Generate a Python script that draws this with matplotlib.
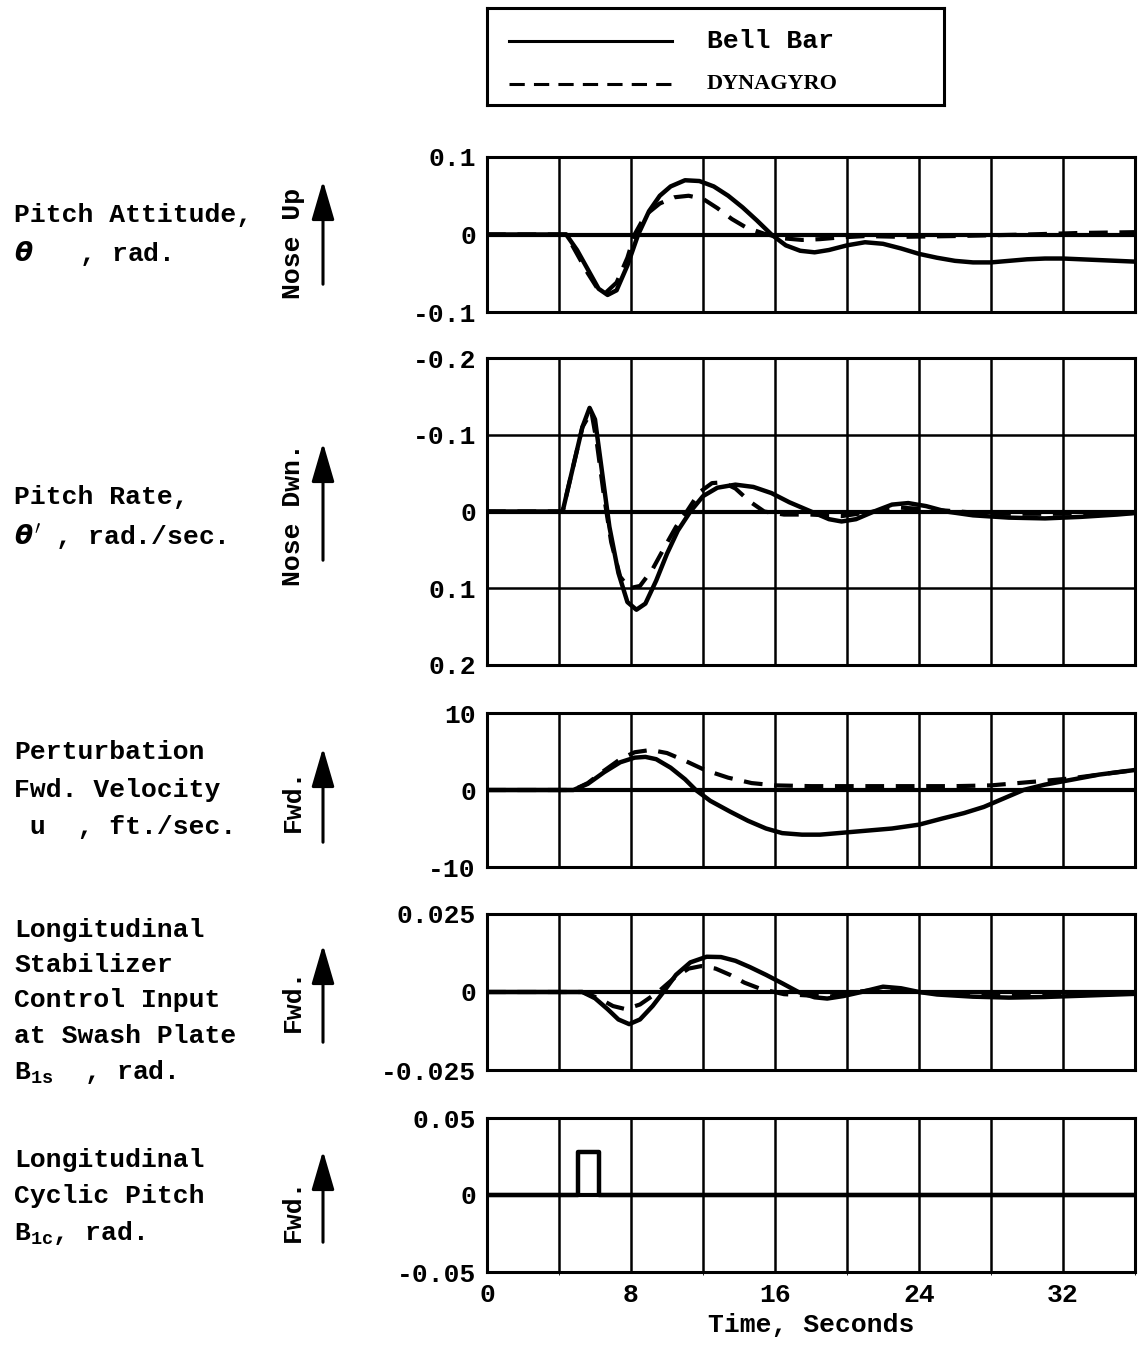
import matplotlib.pyplot as plt
import numpy as np

W, H = 1139, 1346
plt.rcParams['font.family'] = ['Liberation Mono', 'DejaVu Sans Mono']
plt.rcParams['font.weight'] = 'bold'

# time axis
x_ticks = [0, 8, 16, 24, 32]

# pitch attitude (rad)
t_att_bell = [0, 4.4, 5.0, 5.6, 6.2, 6.7, 7.2, 7.8, 8.4, 9.0, 9.6, 10.2, 11.0, 11.8, 12.6, 13.4, 14.2, 15.0,
              15.8, 16.6, 17.4, 18.2, 19.0, 20.0, 21.0, 22.0, 23.0, 24.0, 25.0, 26.0, 27.0, 28.0, 29.0,
              30.0, 31.0, 32.0, 33.0, 34.0, 35.0, 36.0]
att_bell = [0, 0, -0.02, -0.045, -0.07, -0.078, -0.072, -0.04, 0.0, 0.03, 0.05, 0.062, 0.070, 0.069, 0.062,
            0.050, 0.035, 0.018, 0.0, -0.014, -0.021, -0.023, -0.020, -0.014, -0.010, -0.012, -0.018,
            -0.025, -0.030, -0.034, -0.036, -0.036, -0.034, -0.032, -0.031, -0.031, -0.032, -0.033,
            -0.034, -0.035]
t_att_dyn = [0, 4.4, 5.0, 5.6, 6.2, 6.6, 7.2, 7.8, 8.2, 8.8, 9.6, 10.4, 11.2, 12.0, 12.8, 13.6, 14.4, 15.4,
             16.5, 17.5, 18.5, 19.5, 21.0, 23.0, 26.0, 30.0, 33.0, 36.0]
att_dyn = [0, 0, -0.025, -0.05, -0.072, -0.075, -0.062, -0.03, 0.0, 0.025, 0.040, 0.048, 0.050, 0.046,
           0.034, 0.020, 0.009, 0.001, -0.005, -0.007, -0.006, -0.004, -0.002, -0.003, -0.002, 0.0,
           0.002, 0.003]

# pitch rate (rad/sec)
t_rate_bell = [0, 4.2, 4.8, 5.3, 5.7, 6.0, 6.4, 6.8, 7.3, 7.8, 8.3, 8.8, 9.4, 10.0, 10.6, 11.3, 12.0, 12.8,
               13.8, 14.8, 15.8, 16.8, 18.0, 19.0, 19.7, 20.5, 21.5, 22.5, 23.4, 24.4, 25.5, 27, 29, 31,
               33, 35, 36]
rate_bell = [0, 0, -0.06, -0.11, -0.135, -0.12, -0.05, 0.02, 0.08, 0.118, 0.128, 0.12, 0.09, 0.055, 0.025,
             0.0, -0.02, -0.031, -0.035, -0.032, -0.024, -0.012, 0.0, 0.010, 0.013, 0.010, 0.0, -0.009,
             -0.011, -0.007, 0.0, 0.005, 0.008, 0.009, 0.007, 0.004, 0.002]
t_rate_dyn = [0, 4.2, 4.8, 5.3, 5.8, 6.1, 6.5, 6.9, 7.4, 7.9, 8.5, 9.2, 9.9, 10.5, 11.1, 11.8, 12.5, 13.1,
              13.8, 14.6, 15.4, 16.5, 18.0, 19.7, 21.5, 23, 25, 28, 32, 36]
rate_dyn = [0, 0, -0.06, -0.11, -0.13, -0.09, -0.02, 0.04, 0.085, 0.10, 0.097, 0.075, 0.045, 0.02, 0.0,
            -0.025, -0.037, -0.038, -0.03, -0.013, 0.0, 0.004, 0.004, 0.006, 0.0, -0.005, -0.002, 0.003,
            0.003, 0.002]

# perturbation forward velocity (ft/sec)
t_u_bell = [0, 4.8, 5.6, 6.5, 7.4, 8.2, 8.8, 9.4, 10.2, 11.0, 11.6, 12.4, 13.5, 14.5, 15.5, 16.4, 17.5,
            18.5, 19.5, 21.0, 22.5, 24.0, 25.3, 26.5, 27.6, 28.7, 29.8, 31.0, 32.4, 34.0, 36.0]
u_bell = [0, 0, 0.8, 2.3, 3.6, 4.2, 4.3, 4.0, 2.9, 1.4, 0.0, -1.4, -2.8, -4.0, -5.0, -5.6, -5.8, -5.8,
          -5.6, -5.3, -5.0, -4.5, -3.7, -3.0, -2.2, -1.1, 0.0, 0.7, 1.3, 2.0, 2.6]
t_u_dyn = [0, 4.8, 5.6, 6.5, 7.4, 8.2, 9.1, 10.0, 11.0, 12.1, 13.4, 14.7, 16.0, 18, 20, 22, 24, 26, 28,
           29.5, 31, 32.4, 34, 36]
u_dyn = [0, 0, 0.9, 2.5, 4.0, 4.9, 5.2, 4.8, 3.8, 2.6, 1.6, 0.9, 0.6, 0.5, 0.5, 0.5, 0.5, 0.5, 0.6,
         0.9, 1.2, 1.5, 2.0, 2.6]

# stabilizer control input at swash plate (rad)
t_stab_bell = [0, 5.3, 6.0, 6.7, 7.3, 7.9, 8.5, 9.2, 9.8, 10.5, 11.3, 12.2, 13.0, 13.8, 14.6, 15.5, 16.4,
               17.3, 18.2, 18.9, 19.8, 20.8, 22.0, 23.0, 24.0, 25.0, 27.0, 29.0, 31.0, 33.0, 35, 36.0]
stab_bell = [0, 0, -0.002, -0.0055, -0.0088, -0.0103, -0.0088, -0.0045, 0.0, 0.0055, 0.0095, 0.0113,
             0.0112, 0.0100, 0.0080, 0.0055, 0.0028, 0.0, -0.0017, -0.0021, -0.0013, 0.0, 0.0017, 0.0012,
             0.0, -0.0008, -0.0015, -0.0018, -0.0016, -0.0012, -0.0008, -0.0006]
t_stab_dyn = [0, 5.3, 6.2, 7.0, 7.7, 8.5, 9.5, 10.4, 11.2, 11.9, 12.7, 13.5, 14.3, 15.2, 16.5, 17.5, 19,
              20.5, 22, 24, 27, 30, 33, 36]
stab_dyn = [0, 0, -0.002, -0.0045, -0.0055, -0.004, 0.0, 0.0045, 0.0075, 0.0083, 0.0075, 0.0055, 0.003,
            0.001, -0.0007, -0.001, -0.0015, 0.0, 0.001, 0.0, -0.0012, -0.0012, -0.001, -0.0004]

# longitudinal cyclic pitch pulse (rad)
t_cyc = [0, 5.05, 5.05, 6.2, 6.2, 36]
cyc = [0, 0, 0.028, 0.028, 0, 0]

panels = [
    dict(top=157, bot=312, ylim=(-0.1, 0.1), yt=[-0.1, 0, 0.1], ytl=['-0.1', '0', '0.1'],
         series=[(t_att_bell, att_bell), (t_att_dyn, att_dyn)]),
    dict(top=358, bot=665, ylim=(0.2, -0.2), yt=[-0.2, -0.1, 0, 0.1, 0.2],
         ytl=['-0.2', '-0.1', '0', '0.1', '0.2'],
         series=[(t_rate_bell, rate_bell), (t_rate_dyn, rate_dyn)]),
    dict(top=713, bot=867, ylim=(-10, 10), yt=[-10, 0, 10], ytl=['-10', '0', '10'],
         series=[(t_u_bell, u_bell), (t_u_dyn, u_dyn)]),
    dict(top=914, bot=1070, ylim=(-0.025, 0.025), yt=[-0.025, 0, 0.025], ytl=['-0.025', '0', '0.025'],
         series=[(t_stab_bell, stab_bell), (t_stab_dyn, stab_dyn)]),
    dict(top=1118, bot=1272, ylim=(-0.05, 0.05), yt=[-0.05, 0, 0.05], ytl=['-0.05', '0', '0.05'],
         series=[(t_cyc, cyc)]),
]

fig = plt.figure(figsize=(W / 100, H / 100), dpi=100)
L, R = 487, 1135
fs = 19

axes = []
for i, p in enumerate(panels):
    ax = fig.add_axes([L / W, 1 - p['bot'] / H, (R - L) / W, (p['bot'] - p['top']) / H])
    ax.set_xlim(0, 36)
    ax.set_ylim(*p['ylim'])
    ax.set_xticks(np.arange(0, 37, 4))
    lo, hi = min(p['ylim']), max(p['ylim'])
    ax.set_yticks(np.linspace(lo, hi, 5) if i == 1 else [lo, 0, hi])
    ax.grid(True, color='black', lw=1.8)
    ax.axhline(0, color='black', lw=3)
    for s in ax.spines.values():
        s.set_linewidth(2.2)
    ax.tick_params(length=0, labelsize=fs, pad=8)
    ax.set_yticks(p['yt'])
    ax.set_yticklabels(p['ytl'])
    if i < 4:
        ax.set_xticklabels([])
    else:
        ax.set_xticks(x_ticks, [str(v) for v in x_ticks])
        ax.set_xticks(np.arange(0, 37, 4), minor=True)
        ax.xaxis.grid(True, which='minor', color='black', lw=1.8)
    ax.plot(*p['series'][0], color='black', lw=3.2, solid_joinstyle='round', solid_capstyle='round')
    if len(p['series']) > 1:
        ax.plot(*p['series'][1], color='black', lw=3.0, dashes=(4.5, 2.8))
    axes.append(ax)

axes[-1].set_xlabel('Time, Seconds', fontsize=fs, fontweight='bold', labelpad=4)


def ftext(x, y, s, **kw):
    fig.text(x / W, 1 - y / H, s, fontsize=kw.pop('fontsize', fs), va='center', **kw)


def arrow(x, y0, y1):
    fig.add_artist(plt.matplotlib.patches.FancyArrowPatch(
        (x / W, 1 - y0 / H), (x / W, 1 - y1 / H), transform=fig.transFigure,
        arrowstyle='-|>,head_length=1.2,head_width=0.35', mutation_scale=20, color='black', lw=2.2))


# left labels
ftext(14, 215, 'Pitch Attitude,')
ftext(14, 253, '$\\mathit{\\theta}$   , rad.')
ftext(14, 497, 'Pitch Rate,')
ftext(14, 537, "$\\mathit{\\theta}'$ , rad./sec.")
ftext(14, 752, 'Perturbation')
ftext(14, 790, 'Fwd. Velocity')
ftext(14, 827, ' u  , ft./sec.')
ftext(14, 930, 'Longitudinal')
ftext(14, 965, 'Stabilizer')
ftext(14, 1000, 'Control Input')
ftext(14, 1036, 'at Swash Plate')
ftext(14, 1072, '$\\mathregular{B_{1s}}$  , rad.')
ftext(14, 1160, 'Longitudinal')
ftext(14, 1196, 'Cyclic Pitch')
ftext(14, 1233, '$\\mathregular{B_{1c}}$, rad.')

# direction labels and arrows
ftext(293, 243, 'Nose Up', rotation=90, ha='center')
ftext(293, 515, 'Nose Dwn.', rotation=90, ha='center')
ftext(293, 800, 'Fwd.', rotation=90, ha='center')
ftext(293, 1000, 'Fwd.', rotation=90, ha='center')
ftext(293, 1210, 'Fwd.', rotation=90, ha='center')
arrow(323, 287, 178)
arrow(323, 563, 440)
arrow(323, 845, 745)
arrow(323, 1045, 942)
arrow(323, 1245, 1148)

# legend box
lax = fig.add_axes([487 / W, 1 - 105 / H, (944 - 487) / W, 97 / H])
lax.set_xlim(0, 457)
lax.set_ylim(97, 0)
lax.set_xticks([])
lax.set_yticks([])
for s in lax.spines.values():
    s.set_linewidth(2.2)
lax.plot([22, 185], [33, 33], color='black', lw=2.2)
lax.plot([22, 185], [76, 76], color='black', lw=2.2, dashes=(5, 3))
lax.text(220, 33, 'Bell Bar', fontsize=fs, va='center')
lax.text(220, 76, 'DYNAGYRO', fontsize=fs - 3, va='center', family='Liberation Serif')

fig.savefig('out.png', dpi=100)
